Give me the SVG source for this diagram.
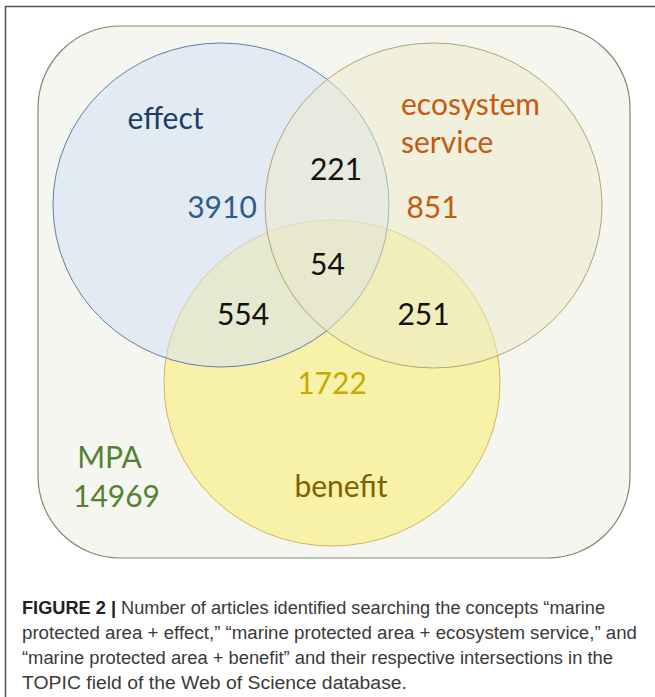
<svg xmlns="http://www.w3.org/2000/svg" width="655" height="697" viewBox="0 0 655 697">
<style>
.lbl{font-family:Lato,"Open Sans","Liberation Sans",sans-serif;font-size:30px}
.num{fill:#111111}
.cap{font-family:"Liberation Sans",Arial,sans-serif;font-size:18px;fill:#3a3a3a}
</style>
<rect width="655" height="697" fill="#ffffff"/>
<path d="M655 6.5 H5.5 V697" fill="none" stroke="#555555" stroke-width="1.5"/>
<g id="mpa">
<rect x="38" y="26" width="592" height="532" rx="82" ry="82" fill="#f4f6ef" stroke="#7f8a70" stroke-width="1.2"/>
<text class="lbl" x="109.5" y="468" text-anchor="middle" fill="#548235">MPA</text>
<text class="lbl" x="116.5" y="507" text-anchor="middle" fill="#548235">14969</text>
</g>
<g id="benefit">
<ellipse cx="332" cy="383" rx="168" ry="163" fill="#f8f2a8" stroke="#d8b262" stroke-width="1"/>
</g>
<g id="effect">
<ellipse cx="221" cy="205" rx="168" ry="162" fill="#d0e0f5" fill-opacity="0.5" stroke="#5f7fb2" stroke-width="1"/>
</g>
<g id="ecosystem-service">
<ellipse cx="433.5" cy="205.5" rx="168.5" ry="162.5" fill="#eceac9" fill-opacity="0.5" stroke="#b5a46c" stroke-width="1"/>
</g>
<g id="labels">
<text class="lbl" x="165.5" y="129" text-anchor="middle" fill="#1f3c68">effect</text>
<text class="lbl" x="222" y="218" text-anchor="middle" fill="#2e5b8c">3910</text>
<text class="lbl" x="401" y="115" fill="#c55a11">ecosystem</text>
<text class="lbl" x="401" y="153" fill="#c55a11">service</text>
<text class="lbl" x="432.5" y="218" text-anchor="middle" fill="#c55a11">851</text>
<text class="lbl" x="332" y="394" text-anchor="middle" fill="#c9a800">1722</text>
<text class="lbl" x="341" y="497" text-anchor="middle" fill="#7f6000">benefit</text>
<text class="lbl num" x="336" y="180" text-anchor="middle">221</text>
<text class="lbl num" x="327.5" y="275" text-anchor="middle">54</text>
<text class="lbl num" x="243" y="325" text-anchor="middle">554</text>
<text class="lbl num" x="423.5" y="325" text-anchor="middle">251</text>
</g>
<g id="caption">
<text class="cap" x="22" y="614" textLength="583" lengthAdjust="spacingAndGlyphs"><tspan font-weight="bold" fill="#222222">FIGURE 2 |</tspan> Number of articles identified searching the concepts “marine</text>
<text class="cap" x="22" y="639" textLength="615" lengthAdjust="spacingAndGlyphs">protected area + effect,” “marine protected area + ecosystem service,” and</text>
<text class="cap" x="22" y="664" textLength="591" lengthAdjust="spacingAndGlyphs">“marine protected area + benefit” and their respective intersections in the</text>
<text class="cap" x="22" y="689" textLength="385" lengthAdjust="spacingAndGlyphs">TOPIC field of the Web of Science database.</text>
</g>
</svg>
